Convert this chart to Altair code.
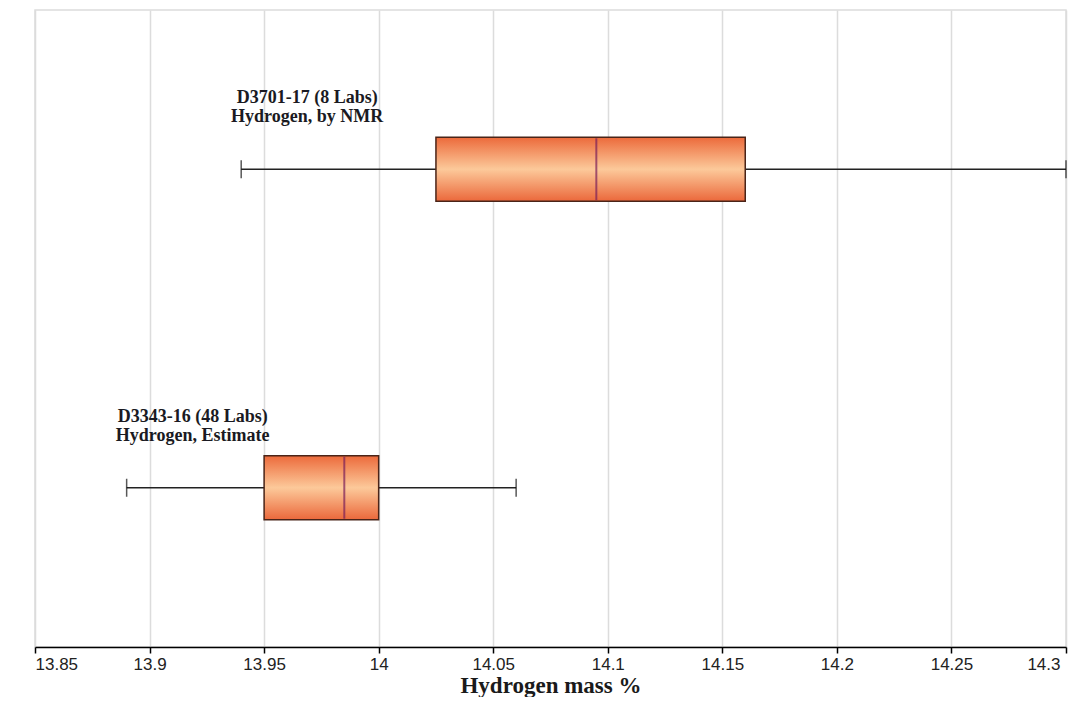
import altair as alt
import pandas as pd

rows = ["NMR", "Estimate"]
labels = ["D3701-17 (8 Labs)\nHydrogen, by NMR", "D3343-16 (48 Labs)\nHydrogen, Estimate"]
mins = [13.94, 13.89]
q1s = [14.025, 13.95]
medians = [14.095, 13.985]
q3s = [14.16, 14.00]
maxs = [14.30, 14.06]
tick_values = [13.85, 13.9, 13.95, 14.0, 14.05, 14.1, 14.15, 14.2, 14.25, 14.3]

df = pd.DataFrame({
    "row": rows, "label": labels, "min": mins, "q1": q1s,
    "median": medians, "q3": q3s, "max": maxs,
})

xscale = alt.Scale(domain=[13.85, 14.3], nice=False, zero=False)
yenc = alt.Y("row:N", sort=rows, scale=alt.Scale(paddingInner=0, paddingOuter=0), axis=None)

xaxis = alt.Axis(
    values=tick_values, format="~g", title="Hydrogen mass %",
    grid=True, gridColor="#dcdcdc", gridWidth=1.5,
    domainColor="#000000", domainWidth=1.5,
    tickColor="#000000", tickWidth=1.5, tickSize=6,
    labelFont="Liberation Sans", labelFontSize=17, labelColor="#222222", labelPadding=3,
    labelOffset={"expr": "datum.value >= 14.29 ? -6 : 0"},
    titleFont="Liberation Serif", titleFontSize=23, titleFontWeight="bold",
    titleColor="#1a1a1a", titleBaseline="alphabetic", titleY=45,
)

base = alt.Chart(df)

whisker = base.mark_rule(color="#222222", strokeWidth=1.5).encode(
    x=alt.X("min:Q", scale=xscale, axis=xaxis), x2="max:Q", y=yenc
)

gradient = alt.Gradient(
    gradient="linear",
    stops=[
        alt.GradientStop(offset=0, color="#ec6a3b"),
        alt.GradientStop(offset=0.5, color="#fcc99a"),
        alt.GradientStop(offset=1, color="#eb683b"),
    ],
    x1=0, x2=0, y1=0, y2=1,
)

box = base.mark_bar(size=64, fill=gradient, stroke="#4a2418", strokeWidth=1.5).encode(
    x=alt.X("q1:Q", scale=xscale), x2="q3:Q", y=yenc
)

median = base.mark_tick(size=62, thickness=2, color="#7a1f5a", orient="vertical").encode(
    x=alt.X("median:Q", scale=xscale), y=yenc
)

cap_min = base.mark_tick(size=18, thickness=1.5, color="#111111", orient="vertical").encode(
    x=alt.X("min:Q", scale=xscale), y=yenc
)
cap_max = base.mark_tick(size=18, thickness=1.5, color="#111111", orient="vertical").encode(
    x=alt.X("max:Q", scale=xscale), y=yenc
)

text = base.mark_text(
    align="center", baseline="alphabetic", dx=66, dy=-66,
    font="Liberation Serif", fontWeight="bold", fontSize=18,
    lineBreak="\n", lineHeight=19, color="#1a1a22",
).encode(x=alt.X("min:Q", scale=xscale), y=yenc, text="label:N")

chart = alt.layer(whisker, box, median, cap_min, cap_max, text).properties(
    width=1031, height=637,
    autosize=alt.AutoSizeParams(type="none"),
    padding={"left": 27, "top": 2, "right": 11, "bottom": 50},
).configure_view(stroke="#dcdcdc", strokeWidth=1.5)

chart.save("out.html", embed_options={"renderer": "svg", "actions": False})
